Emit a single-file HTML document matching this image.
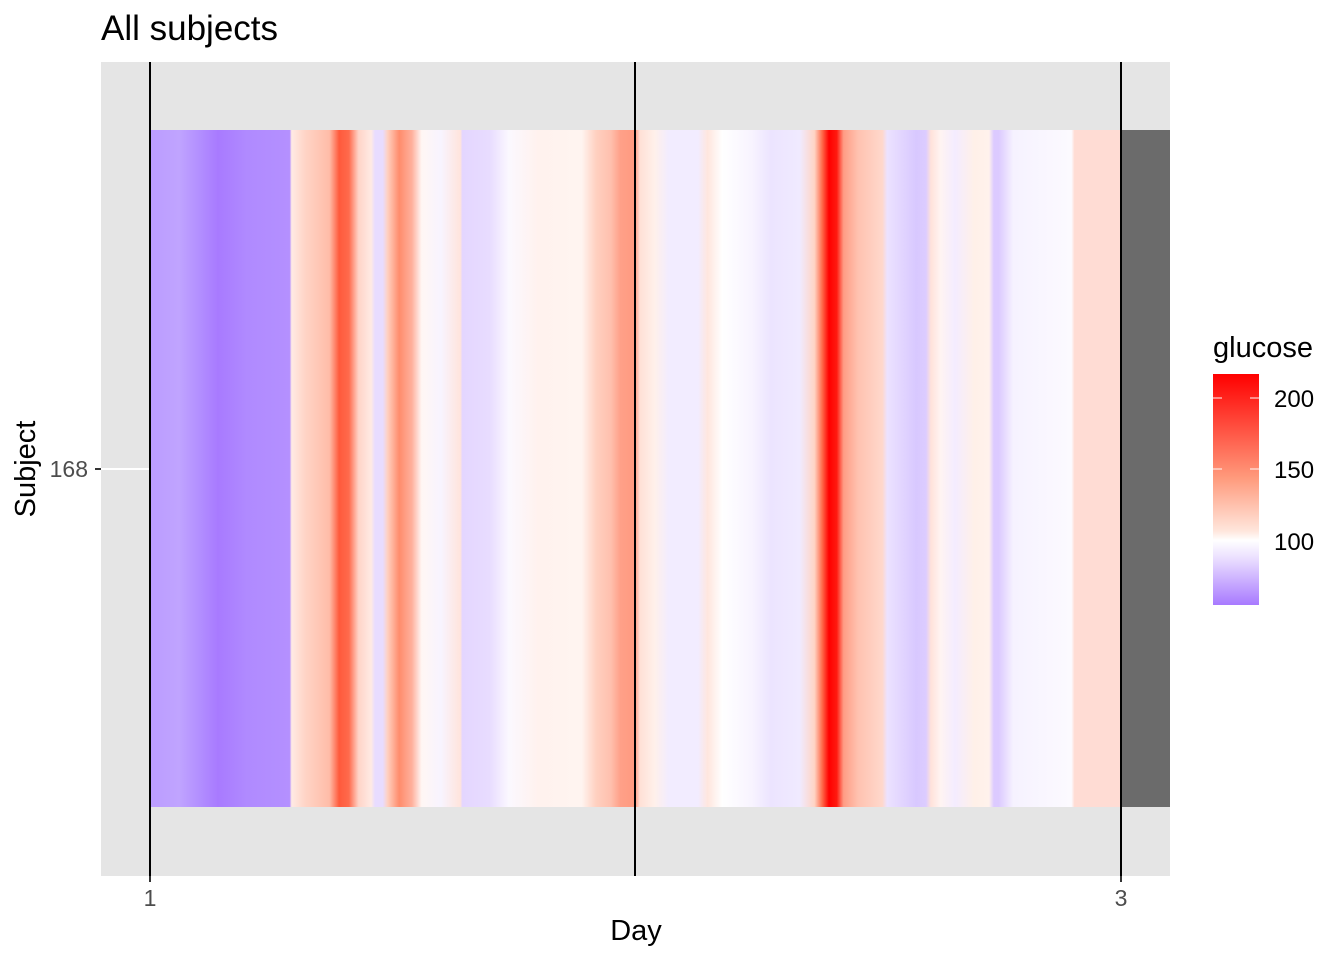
<!DOCTYPE html>
<html><head><style>body{margin:0;background:#fff}svg{display:block}text{font-family:"Liberation Sans",Arial,sans-serif}</style></head>
<body>
<svg width="1344" height="960" viewBox="0 0 1344 960" xmlns="http://www.w3.org/2000/svg">
<defs>
<linearGradient id="hm" x1="150" x2="1120" y1="0" y2="0" gradientUnits="userSpaceOnUse">
<stop offset="0" stop-color="#bb9cff"/>
<stop offset="0.03" stop-color="#c0a4ff"/>
<stop offset="0.05" stop-color="#b390ff"/>
<stop offset="0.07" stop-color="#a87aff"/>
<stop offset="0.10" stop-color="#b08aff"/>
<stop offset="0.144" stop-color="#b490ff"/>
<stop offset="0.146" stop-color="#ffeae4"/>
<stop offset="0.16" stop-color="#ffd4c6"/>
<stop offset="0.185" stop-color="#ffbca8"/>
<stop offset="0.195" stop-color="#ff5a3c"/>
<stop offset="0.205" stop-color="#ff6a4c"/>
<stop offset="0.215" stop-color="#ffd4c8"/>
<stop offset="0.228" stop-color="#ffeae4"/>
<stop offset="0.232" stop-color="#e8dcff"/>
<stop offset="0.24" stop-color="#e8dcff"/>
<stop offset="0.245" stop-color="#ffd0c0"/>
<stop offset="0.257" stop-color="#ff8c6c"/>
<stop offset="0.27" stop-color="#ffb09c"/>
<stop offset="0.28" stop-color="#fff6f4"/>
<stop offset="0.30" stop-color="#f8f4ff"/>
<stop offset="0.32" stop-color="#ffe4dc"/>
<stop offset="0.322" stop-color="#e4d6ff"/>
<stop offset="0.35" stop-color="#e8dcff"/>
<stop offset="0.37" stop-color="#fbf8ff"/>
<stop offset="0.40" stop-color="#fff2ee"/>
<stop offset="0.445" stop-color="#fff4f0"/>
<stop offset="0.46" stop-color="#ffd0c0"/>
<stop offset="0.475" stop-color="#ffc0ae"/>
<stop offset="0.485" stop-color="#ffa088"/>
<stop offset="0.50" stop-color="#ff9a80"/>
<stop offset="0.505" stop-color="#ffe0d6"/>
<stop offset="0.52" stop-color="#fff0ea"/>
<stop offset="0.535" stop-color="#f2ecff"/>
<stop offset="0.565" stop-color="#f2ecff"/>
<stop offset="0.575" stop-color="#ffe6de"/>
<stop offset="0.59" stop-color="#ffffff"/>
<stop offset="0.62" stop-color="#f8f4ff"/>
<stop offset="0.64" stop-color="#ece4ff"/>
<stop offset="0.67" stop-color="#f0eaff"/>
<stop offset="0.685" stop-color="#ffd4c4"/>
<stop offset="0.693" stop-color="#ff6a4a"/>
<stop offset="0.70" stop-color="#ff0000"/>
<stop offset="0.708" stop-color="#ff1a10"/>
<stop offset="0.715" stop-color="#ff9c84"/>
<stop offset="0.73" stop-color="#ffc2b0"/>
<stop offset="0.755" stop-color="#ffd8cc"/>
<stop offset="0.76" stop-color="#ece2ff"/>
<stop offset="0.79" stop-color="#d8c8ff"/>
<stop offset="0.80" stop-color="#dcccff"/>
<stop offset="0.805" stop-color="#ffe2da"/>
<stop offset="0.815" stop-color="#fff4f2"/>
<stop offset="0.83" stop-color="#f4ecff"/>
<stop offset="0.85" stop-color="#fff0e8"/>
<stop offset="0.865" stop-color="#fff2ec"/>
<stop offset="0.87" stop-color="#dccaff"/>
<stop offset="0.875" stop-color="#dccaff"/>
<stop offset="0.89" stop-color="#f6f2ff"/>
<stop offset="0.95" stop-color="#fcfaff"/>
<stop offset="0.953" stop-color="#ffdcd4"/>
<stop offset="1" stop-color="#ffdcd4"/>
</linearGradient>
<linearGradient id="lg" x1="0" x2="0" y1="374" y2="605" gradientUnits="userSpaceOnUse">
<stop offset="0" stop-color="#ff0000"/>
<stop offset="0.45" stop-color="#ff9a7c"/>
<stop offset="0.68" stop-color="#ffe6dc"/>
<stop offset="0.72" stop-color="#ffffff"/>
<stop offset="0.8" stop-color="#eadeff"/>
<stop offset="1" stop-color="#a87aff"/>
</linearGradient>
</defs>
<text x="101" y="40" font-size="35" fill="#000">All subjects</text>
<rect x="101" y="62" width="1069" height="814" fill="#e5e5e5"/>
<line x1="101" x2="1170" y1="469" y2="469" stroke="#fff" stroke-width="2"/>
<rect x="150" y="130" width="970" height="677" fill="url(#hm)"/>
<rect x="1120" y="130" width="50" height="677" fill="#6b6b6b"/>
<g stroke="#000" stroke-width="2">
<line x1="150" x2="150" y1="62" y2="876"/>
<line x1="635" x2="635" y1="62" y2="876"/>
<line x1="1121" x2="1121" y1="62" y2="876"/>
</g>
<g stroke="#333" stroke-width="2">
<line x1="95" x2="101" y1="469" y2="469"/>
<line x1="150" x2="150" y1="876" y2="882"/>
<line x1="1121" x2="1121" y1="876" y2="882"/>
</g>
<text x="88" y="477" font-size="23" fill="#4d4d4d" text-anchor="end">168</text>
<text x="150" y="906" font-size="23" fill="#4d4d4d" text-anchor="middle">1</text>
<text x="1121" y="906" font-size="23" fill="#4d4d4d" text-anchor="middle">3</text>
<text x="636" y="940" font-size="29" fill="#000" text-anchor="middle">Day</text>
<text transform="translate(35,469) rotate(-90)" font-size="29" fill="#000" text-anchor="middle">Subject</text>
<text x="1213" y="357" font-size="29" fill="#000">glucose</text>
<rect x="1213" y="374" width="46" height="231" fill="url(#lg)"/>
<g stroke="#fff" stroke-width="1.2" opacity="0.8">
<line x1="1213" x2="1222" y1="398" y2="398"/><line x1="1250" x2="1259" y1="398" y2="398"/>
<line x1="1213" x2="1222" y1="469" y2="469"/><line x1="1250" x2="1259" y1="469" y2="469"/>
<line x1="1213" x2="1222" y1="541" y2="541"/><line x1="1250" x2="1259" y1="541" y2="541"/>
</g>
<text x="1274" y="407" font-size="24" fill="#000">200</text>
<text x="1274" y="478" font-size="24" fill="#000">150</text>
<text x="1274" y="550" font-size="24" fill="#000">100</text>
</svg>
</body></html>
